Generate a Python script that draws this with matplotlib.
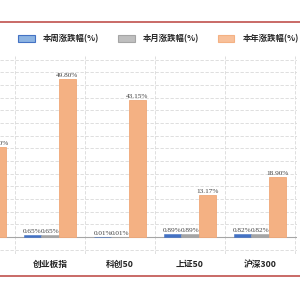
import matplotlib
matplotlib.use('Agg')
import matplotlib.pyplot as plt
from matplotlib.lines import Line2D
import numpy as np

plt.rcParams['font.family'] = ['Noto Sans CJK SC', 'DejaVu Sans']

# first group is cut off on the left edge of the picture
categories = ['深证成指', '创业板指', '科创50', '上证50', '沪深300']
week_chg = [0.50, 0.65, 0.01, 0.89, 0.82]
month_chg = [0.50, 0.65, 0.01, 0.89, 0.82]
year_chg = [28.40, 49.80, 43.15, 13.17, 18.90]
series_names = ['本周涨跌幅(%)', '本月涨跌幅(%)', '本年涨跌幅(%)']

fig = plt.figure(figsize=(3, 3), dpi=100)
ax = fig.add_axes([0.0, 0.152, 0.99, 0.66])

x = np.arange(len(categories))
w = 0.25
b1 = ax.bar(x - w, week_chg, w, color='#4472c4', edgecolor='#4472c4', linewidth=0.4, label=series_names[0], zorder=3)
b2 = ax.bar(x, month_chg, w, color='#a5a5a5', edgecolor='#a5a5a5', linewidth=0.4, label=series_names[1], zorder=3)
b3 = ax.bar(x + w, year_chg, w, color='#f4b183', edgecolor='#f0a878', linewidth=0.6, label=series_names[2], zorder=3)

for bars in (b1, b2, b3):
    # only the yearly label of the cut-off group peeks in at the left edge
    ax.bar_label(bars, labels=['%.2f%%' % v for v in bars.datavalues], padding=1,
                 fontsize=5.2, family='Liberation Serif', color='#404040',
                 annotation_clip=(False if bars is b3 else None))

ax.axhline(0, color='#a6a6a6', lw=0.8, zorder=2)

# grid
ax.set_yticks(np.arange(-4, 57, 4))
ax.set_xticks(x)
ax.set_xticks(x + 0.5, minor=True)
ax.grid(axis='y', which='major', color='#d9d9d9', ls=(0, (4, 2)), lw=0.6, zorder=0)
ax.grid(axis='x', which='minor', color='#d9d9d9', ls=(0, (4, 2)), lw=0.6, zorder=0)
ax.tick_params(axis='y', length=0, labelleft=False)
ax.tick_params(axis='x', which='both', length=0, pad=4)
ax.set_xticklabels(categories, fontsize=6.3, fontweight='bold', color='#262626')
for s in ax.spines.values():
    s.set_visible(False)

# limits after ticks, the first group sits mostly off the left edge
ax.set_xlim(20 / 70, 317 / 70)
ax.set_ylim(-5.5, 57)

# legend
handles = [plt.Rectangle((0, 0), 1, 1, fc='#8db4e2', ec='#4472c4', lw=0.8),
           plt.Rectangle((0, 0), 1, 1, fc='#bfbfbf', ec='#a5a5a5', lw=0.8),
           plt.Rectangle((0, 0), 1, 1, fc='#f8c09a', ec='#f4b183', lw=0.8)]
leg = fig.legend(handles, series_names, loc='center left', bbox_to_anchor=(14 / 300, 1 - 39 / 300),
                 ncol=3, frameon=False, borderpad=0, handlelength=2.0, handleheight=0.8,
                 handletextpad=1.0, columnspacing=2.2,
                 prop={'size': 6, 'weight': 'bold'})
for t in leg.get_texts():
    t.set_color('#262626')

# red rules top and bottom
fig.add_artist(Line2D([0, 1], [1 - 22 / 300] * 2, color='#c0504d', lw=1.2))
fig.add_artist(Line2D([0, 1], [24 / 300] * 2, color='#c0504d', lw=1.2))

plt.savefig('out.png', dpi=100)
